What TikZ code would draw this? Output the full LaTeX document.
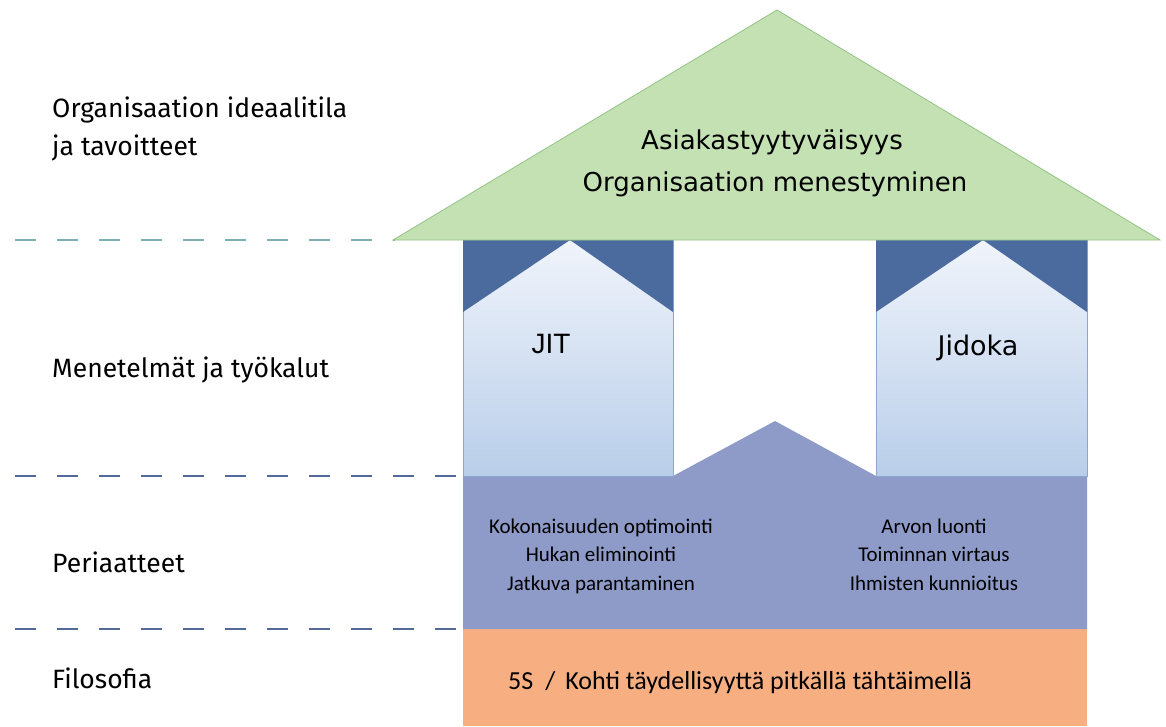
\documentclass[tikz,border=0pt]{standalone}
\usepackage{fontspec}
\setmainfont{Fira Sans}
\newfontfamily\rooffont{DejaVu Sans}
\newfontfamily\jitfont{Liberation Sans}
\newfontfamily\pfont{Carlito}
\definecolor{roofgreen}{HTML}{C4E1B4}
\definecolor{roofedge}{HTML}{93C383}
\definecolor{capblue}{HTML}{4B6B9F}
\definecolor{pillartop}{HTML}{F0F4FB}
\definecolor{pillarbot}{HTML}{B9CEEA}
\definecolor{pillaredge}{HTML}{8EA6CC}
\definecolor{principle}{HTML}{8E9BC9}
\definecolor{philo}{HTML}{F7AE80}
\definecolor{dashteal}{HTML}{7DAFB6}
\definecolor{dashblue}{HTML}{52699A}
\tikzset{
  levellabel/.style={anchor=base west, inner sep=0pt, font=\fontsize{26.5}{38}\selectfont, align=left},
  rooftext/.style={anchor=base, inner sep=0pt, font=\rooffont\fontsize{26}{41}\selectfont},
  ptext/.style={anchor=base, inner sep=0pt, font=\pfont\fontsize{21}{28.5}\selectfont, align=center},
  divider/.style={line width=2.6pt, dash pattern=on 21pt off 21pt},
  pillarcap/.style={fill=capblue},
}
\begin{document}
\begin{tikzpicture}[x=1pt,y=-1pt]
\useasboundingbox (0,0) rectangle (1166,726);

% level dividers
\coordinate (d1a) at (15,240);  \coordinate (d1b) at (395,240);
\coordinate (d2a) at (15,476);  \coordinate (d2b) at (458,476);
\coordinate (d3a) at (15,629);  \coordinate (d3b) at (458,629);
\draw[divider, dashteal] (d1a) -- (d1b);
\draw[divider, dashblue] (d2a) -- (d2b);
\draw[divider, dashblue] (d3a) -- (d3b);

% foundation: philosophy
\fill[philo] (463,629) rectangle (1087,726);

% principles band with the central gable
\fill[principle] (463,629) -- (463,476) -- (673,476) -- (775,421) -- (876,476)
  -- (1087,476) -- (1087,629) -- cycle;

% pillars
\shade[top color=pillartop, bottom color=pillarbot] (463,240) rectangle (673,476);
\draw[pillaredge, line width=0.6pt] (463,240) rectangle (673,476);
\fill[pillarcap] (463,240) -- (570,240) -- (463,312) -- cycle;
\fill[pillarcap] (570,240) -- (673,240) -- (673,312) -- cycle;

\shade[top color=pillartop, bottom color=pillarbot] (876,240) rectangle (1087,476);
\draw[pillaredge, line width=0.6pt] (876,240) rectangle (1087,476);
\fill[pillarcap] (876,240) -- (983,240) -- (876,312) -- cycle;
\fill[pillarcap] (983,240) -- (1087,240) -- (1087,312) -- cycle;

% roof
\filldraw[fill=roofgreen, draw=roofedge, line width=0.8pt]
  (393,240) -- (777,10) -- (1160,240) -- cycle;

% roof texts
\node[rooftext] (goal1) at (772,149) {Asiakastyytyväisyys};
\node[rooftext] (goal2) at (775,191) {Organisaation menestyminen};

% pillar names
\node[anchor=base, inner sep=0pt, font=\jitfont\fontsize{28}{30}\selectfont] (jit) at (551,353) {JIT};
\node[anchor=base, inner sep=0pt, font=\rooffont\fontsize{27}{30}\selectfont] (jidoka) at (978,355) {Jidoka};

% principles (base anchor = baseline of the last line)
\node[ptext] (pleft) at (601,590) {Kokonaisuuden optimointi\\Hukan eliminointi\\Jatkuva parantaminen};
\node[ptext] (pright) at (934,590) {Arvon luonti\\Toiminnan virtaus\\Ihmisten kunnioitus};

% philosophy
\node[anchor=base west, inner sep=0pt, font=\pfont\fontsize{26}{28}\selectfont] (philo) at (508,689)
  {5S\hspace{12pt}/\hspace{10pt}Kohti täydellisyyttä pitkällä tähtäimellä};

% level labels
\node[levellabel] (lvl1) at (52,155) {Organisaation ideaalitila\\ja tavoitteet};
\node[levellabel] (lvl2) at (52,377) {Menetelmät ja työkalut};
\node[levellabel] (lvl3) at (52,572) {Periaatteet};
\node[levellabel] (lvl4) at (52,688) {Filosofia};
\end{tikzpicture}
\end{document}
